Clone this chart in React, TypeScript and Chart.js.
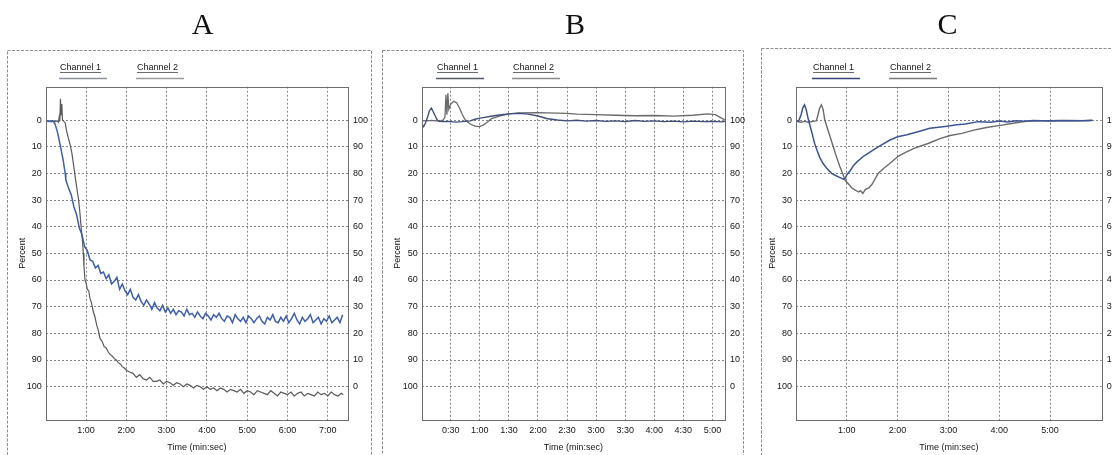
import React, { useEffect, useRef } from "react";
import { Chart, registerables } from "chart.js";

Chart.register(...registerables);

// ---------------- DATA ----------------
const percentTicks = [0, 10, 20, 30, 40, 50, 60, 70, 80, 90, 100];
const aTimeTicks = [60, 120, 180, 240, 300, 360, 420];
const bTimeTicks = [30, 60, 90, 120, 150, 180, 210, 240, 270, 300];
const cTimeTicks = [60, 120, 180, 240, 300];
const panelLetters = ["A", "B", "C"];
const seriesNames = ["Channel 1", "Channel 2"];

// Panel A - Channel 1 (blue)
const aCh1Time = [0, 4, 8, 11, 14, 18, 22, 26, 29,
  30, 34, 38, 42, 46, 50, 54, 58, 62, 66,
  70, 74, 78, 82, 86, 90, 94, 98, 102, 106,
  110, 114, 118, 122, 126, 130, 134, 138, 142, 146,
  150, 154, 158, 162, 166, 170, 174, 178, 182, 186,
  190, 194, 198, 202, 206, 210, 214, 218, 222, 226,
  230, 234, 238, 242, 246, 250, 254, 258, 262, 266,
  270, 274, 278, 282, 286, 290, 294, 298, 302, 306,
  310, 314, 318, 322, 326, 330, 334, 338, 342, 346,
  350, 354, 358, 362, 366, 370, 374, 378, 382, 386,
  390, 394, 398, 402, 406, 410, 414, 418, 422, 426,
  430, 434, 438, 442];
const aCh1 = [0.5, 0.3, 0.6, 0.4, 1.5, 5, 10, 15, 20,
  22.5, 25.5, 28, 32.5, 35.5, 40.5, 43, 47.5, 49, 52.5,
  53, 55.5, 54.5, 57.5, 57, 59.5, 58, 61.5, 60.5, 59,
  63.5, 61.5, 64, 65.5, 63.5, 66.5, 67.5, 65.5, 68, 69.5,
  67.5, 69, 71, 68.5, 70.5, 71.5, 69.5, 72, 70.5, 72.5,
  71, 73, 71.5, 72, 73.5, 71, 73, 72.5, 74, 72,
  73.5, 74.5, 72.5, 73.5, 75, 73, 74, 72.5, 74.5, 75.5,
  73.5, 74, 76, 73, 74.5, 75.5, 74, 76, 73.5, 74.5,
  76, 74.5, 73.5, 75.5, 76.5, 74, 75, 73, 75.5, 76,
  74, 75.5, 73.5, 76, 74.5, 72.5, 75, 76.5, 74, 75.5,
  74.5, 73, 76, 75, 74, 76.5, 74.5, 75.5, 73.5, 76,
  75, 74, 76, 73];

// Panel A - Channel 2 (grey)
const aCh2Time = [0, 5, 10, 14, 17, 19, 20, 21, 22, 23, 24, 25, 27, 29, 31, 33, 35, 37, 39, 41,
  44, 46, 49, 51, 53, 55, 56, 57, 58.5, 60, 62, 64, 66, 68, 71, 73, 76, 78, 81, 84, 87, 90, 93,
  96, 99, 102, 105, 108, 111, 114, 117, 121, 125, 130, 135, 140, 145, 150, 155, 160, 165, 170,
  175, 180, 185, 190, 195, 200, 205, 210, 215, 220, 225, 230, 235, 240, 245, 250, 255, 260, 265,
  270, 275, 280, 285, 290, 295, 300, 305, 310, 315, 320, 325, 330, 335, 340, 345, 350, 355, 360,
  365, 370, 375, 380, 385, 390, 395, 400, 405, 410, 415, 420, 425, 430, 435, 440, 443];
const aCh2 = [0.3, 0.6, 0.2, 0.7, 0.3, 0.8, -1, 0.5, -8, -2, -6, 0, 0.5, 1, 4, 6, 8, 10, 12.5, 16,
  21.5, 25, 30, 35, 41, 46, 50, 55, 60, 61, 63.5, 64, 67, 68.5, 72, 73.5, 77, 78.5, 82, 83, 85, 85.5, 87,
  88, 88.5, 89.5, 90, 91, 91.5, 92.5, 93, 94, 94.5, 95, 96.5, 95.5, 97, 97.5, 96.5, 98, 98, 97.5,
  99, 98, 98.5, 99.5, 98.5, 99, 100, 99, 99.5, 100.5, 99.5, 100, 101, 100, 101, 100.5, 101.5, 100.5, 101,
  102, 101, 101.5, 102, 101, 102.5, 101.5, 102, 103, 101.5, 102, 102.5, 103, 101.5, 102.5, 103.5, 102, 102.5, 103,
  102, 103.5, 102.5, 102, 103.5, 102.5, 103, 103.5, 102, 103, 102.5, 103.5, 102, 103, 103.5, 102.5, 103];

// Panel B - Channel 1
const bCh1Time = [0, 2, 4, 6, 8, 10, 12, 14, 16, 18, 22, 28, 35, 42, 50, 55, 60, 65, 70, 75, 82, 90,
  100, 110, 120, 130, 140, 150, 160, 170, 180, 190, 200, 210, 220, 230, 240, 250, 260, 270, 280,
  290, 300, 310, 313];
const bCh1 = [1.5, 2.5, 1, -1, -3.5, -4.5, -3, -1.5, 0, 0.5, 0.6, 0.5, 0.8, 0.6, 0.3, -0.3, -0.7, -1, -1.3,
  -1.6, -2, -2.3, -2.5, -2.2, -1.5, -0.5, 0, 0.3, 0.1, 0.4, 0.2, 0.5, 0.3, 0.6, 0.2, 0.5, 0.3, 0.6,
  0.4, 0.7, 0.4, 0.6, 0.5, 0.7, 0.5];

// Panel B - Channel 2
const bCh2Time = [0, 5, 10, 15, 20, 22, 24, 25, 26, 27, 28, 30, 33, 36, 39, 42, 45, 50, 55, 59, 63,
  67, 72, 80, 90, 100, 120, 140, 150, 160, 180, 200, 220, 240, 260, 280, 295, 303, 308, 313];
const bCh2 = [0.2, 0.3, 0.1, 0.3, 0.2, 0, -1, -9.5, -2, -10, -4, -6, -7, -6.5, -4.5, -2, 0, 1.5, 2.3,
  2.5, 2, 1, -0.5, -1.5, -2.3, -2.7, -2.8, -2.6, -2.5, -2.2, -2, -1.8, -1.6, -1.7, -1.5, -1.8, -2.3,
  -2, -1, 0];

// Panel C - Channel 1
const cCh1Time = [0, 3, 6, 8, 10, 12, 14, 16, 19, 22, 25, 28, 32, 36, 42, 48, 52, 56, 58, 60, 64, 68,
  72, 80, 91, 100, 111, 120, 131, 145, 158, 176, 190, 200, 215, 230, 240, 250, 260, 270, 280, 300,
  320, 340, 350];
const cCh1 = [0.3, 0.5, -2, -4.5, -5.7, -4, -1, 1.5, 5, 8.8, 11.5, 14, 16.3, 18, 20, 21, 21.6, 22.2,
  22, 20.5, 19, 17, 15.7, 13.5, 11.3, 9.5, 7.5, 6.3, 5.5, 4.3, 3.1, 2.4, 1.8, 1.5, 0.6, 0.8, 0.4,
  0.7, 0.3, 0.5, 0.2, 0.4, 0.2, 0.3, 0.2];

// Panel C - Channel 2
const cCh2Time = [0, 5, 10, 15, 20, 24, 26, 28, 30, 32, 34, 37, 40, 44, 48, 52, 55, 58, 62, 66, 70,
  74, 76, 79, 82, 86, 90, 97, 104, 110, 121, 130, 140, 156, 170, 182, 196, 210, 225, 243, 260, 274,
  290, 310, 330, 350];
const cCh2 = [0.3, 0.8, 0.5, 0.8, 0.5, 0.3, -2, -4.5, -5.7, -4, 0, 3, 6, 10, 14, 17.6, 20, 22.6, 24,
  25.5, 26.3, 27, 26.5, 27.5, 26, 25.5, 24, 20, 18, 16.5, 13.5, 12, 10.5, 8.8, 7, 5.8, 5, 3.8, 2.8,
  1.9, 1, 0.4, 0.3, 0.2, 0.3, 0.1];

// ---------------- HELPERS ----------------
const FONT = '"Liberation Sans", Arial, sans-serif';
const TEXT = "#151515";

function fmtTime(s: number) {
  const m = Math.floor(s / 60);
  const ss = Math.round(s % 60);
  return `${m}:${ss < 10 ? "0" : ""}${ss}`;
}

function pairs(t: number[], v: number[]) {
  return t.map((x, i) => ({ x, y: v[i] }));
}

type Series = { label: string; t: number[]; v: number[]; color: string; width: number; legendColor: string };

type PanelSpec = {
  letter: string;
  canvasLeft: number;
  canvasWidth: number;
  letterX: number;
  boxLeft: number;
  boxTop: number;
  boxRight: number;
  leftW: number;
  rightW: number;
  top: number;
  xMax: number;
  xTicks: number[];
  percentPad: number;
  legendGap: number;
  legendOffset: number;
  series: Series[];
};

const H = 455;

const panels: PanelSpec[] = [
  {
    letter: panelLetters[0], canvasLeft: 0, canvasWidth: 376, letterX: 202.5,
    boxLeft: 7.5, boxTop: 50.5, boxRight: 371.5,
    leftW: 45.7, rightW: 28, top: 86.7, xMax: 450, xTicks: aTimeTicks, percentPad: 17, legendGap: 77, legendOffset: 14,
    series: [
      { label: seriesNames[0], t: aCh1Time, v: aCh1, color: "#3d5fae", width: 1.5, legendColor: "#8a8f9c" },
      { label: seriesNames[1], t: aCh2Time, v: aCh2, color: "#5a5a5a", width: 1.2, legendColor: "#9a9a9a" },
    ],
  },
  {
    letter: panelLetters[1], canvasLeft: 376, canvasWidth: 376, letterX: 199,
    boxLeft: 6.5, boxTop: 50.5, boxRight: 367.5,
    leftW: 45.7, rightW: 27, top: 86.7, xMax: 313, xTicks: bTimeTicks, percentPad: 16, legendGap: 76, legendOffset: 15,
    series: [
      { label: seriesNames[0], t: bCh1Time, v: bCh1, color: "#3f4f7a", width: 1.4, legendColor: "#555a66" },
      { label: seriesNames[1], t: bCh2Time, v: bCh2, color: "#6a6a6a", width: 1.3, legendColor: "#8a8a8a" },
    ],
  },
  {
    letter: panelLetters[2], canvasLeft: 752, canvasWidth: 360, letterX: 195.5,
    boxLeft: 9.5, boxTop: 48.5, boxRight: 420,
    leftW: 44, rightW: 10.3, top: 86.7, xMax: 361, xTicks: cTimeTicks, percentPad: 15, legendGap: 77, legendOffset: 17,
    series: [
      { label: seriesNames[0], t: cCh1Time, v: cCh1, color: "#3b5594", width: 1.5, legendColor: "#34467a" },
      { label: seriesNames[1], t: cCh2Time, v: cCh2, color: "#6b6b6b", width: 1.4, legendColor: "#7a7a7a" },
    ],
  },
];

function makeDecor(spec: PanelSpec) {
  return {
    id: "decor" + spec.letter,
    beforeDraw(chart: any) {
      const ctx = chart.ctx;
      ctx.save();
      ctx.fillStyle = "#ffffff";
      ctx.fillRect(0, 0, chart.width, chart.height);
      ctx.strokeStyle = "#8e8e8e";
      ctx.lineWidth = 1;
      ctx.setLineDash([3, 1.5]);
      ctx.strokeRect(spec.boxLeft, spec.boxTop, spec.boxRight - spec.boxLeft, H + 20);
      ctx.setLineDash([]);
      ctx.fillStyle = "#111";
      ctx.font = '30px "Liberation Serif", "Times New Roman", serif';
      ctx.textAlign = "center";
      ctx.textBaseline = "alphabetic";
      ctx.fillText(spec.letter, spec.letterX, 33.5);
      ctx.restore();
    },
    afterDraw(chart: any) {
      const ctx = chart.ctx;
      const a = chart.chartArea;
      ctx.save();
      ctx.strokeStyle = "#6e6e6e";
      ctx.lineWidth = 1;
      ctx.strokeRect(Math.round(a.left) + 0.5, Math.round(a.top) + 0.5, Math.round(a.right - a.left), Math.round(a.bottom - a.top));
      ctx.font = `9px ${FONT}`;
      ctx.textAlign = "left";
      ctx.textBaseline = "middle";
      spec.series.forEach((s, i) => {
        const x = Math.round(a.left + spec.legendOffset + i * spec.legendGap);
        ctx.fillStyle = TEXT;
        ctx.fillText(s.label, x, 67.5);
        const w = ctx.measureText(s.label).width;
        ctx.strokeStyle = "#444";
        ctx.lineWidth = 0.8;
        ctx.beginPath();
        ctx.moveTo(x, 72.5);
        ctx.lineTo(x + w, 72.5);
        ctx.stroke();
        ctx.strokeStyle = s.legendColor;
        ctx.lineWidth = 1.5;
        ctx.beginPath();
        ctx.moveTo(x - 1, 78.5);
        ctx.lineTo(x + 47, 78.5);
        ctx.stroke();
      });
      ctx.restore();
    },
  };
}

function Panel({ spec }: { spec: PanelSpec }) {
  const ref = useRef<HTMLCanvasElement | null>(null);
  useEffect(() => {
    if (!ref.current) return;
    const tickFont = { family: FONT, size: 9 };
    const chart = new Chart(ref.current, {
      type: "line",
      data: {
        datasets: spec.series.map((s) => ({
          label: s.label,
          data: pairs(s.t, s.v),
          borderColor: s.color,
          backgroundColor: s.color,
          borderWidth: s.width,
          pointRadius: 0,
          tension: 0,
          fill: false,
          xAxisID: "x",
          yAxisID: "y",
        })),
      },
      options: {
        animation: false,
        responsive: false,
        devicePixelRatio: 1,
        layout: { padding: { top: spec.top, left: 0, right: 0, bottom: 0 } },
        plugins: { legend: { display: false }, title: { display: false }, tooltip: { enabled: false } },
        scales: {
          x: {
            type: "linear",
            position: "bottom",
            min: 0,
            max: spec.xMax,
            afterBuildTicks: (s: any) => { s.ticks = spec.xTicks.map((v) => ({ value: v })); },
            afterFit: (s: any) => { s.height = H - 420; },
            ticks: { callback: (v: any) => fmtTime(Number(v)), font: tickFont, color: TEXT, padding: 5, autoSkip: false, maxRotation: 0 },
            grid: { color: "#858585", lineWidth: 1, drawTicks: false },
            border: { display: false, dash: [2, 2] },
            title: { display: true, text: "Time (min:sec)", font: tickFont, color: TEXT, padding: { top: 0, bottom: 2 } },
          },
          y: {
            type: "linear",
            position: "left",
            reverse: true,
            min: -12.5,
            max: 112.5,
            afterBuildTicks: (s: any) => { s.ticks = percentTicks.map((v) => ({ value: v })); },
            afterFit: (s: any) => { s.width = spec.leftW; },
            ticks: { callback: (v: any) => String(v), font: tickFont, color: TEXT, padding: 4 },
            grid: { color: "#858585", lineWidth: 1, drawTicks: false },
            border: { display: false, dash: [2, 2] },
            title: { display: true, text: "Percent", font: tickFont, color: TEXT, padding: { top: spec.percentPad, bottom: 0 } },
          },
          y2: {
            type: "linear",
            position: "right",
            reverse: true,
            min: -12.5,
            max: 112.5,
            afterBuildTicks: (s: any) => { s.ticks = percentTicks.map((v) => ({ value: v })); },
            afterFit: (s: any) => { s.width = spec.rightW; },
            ticks: { callback: (v: any) => String(100 - Number(v)), font: tickFont, color: TEXT, padding: 5 },
            grid: { display: false, drawTicks: false },
            border: { display: false },
          },
        },
      } as any,
      plugins: [makeDecor(spec)],
    });
    return () => chart.destroy();
  }, [spec]);
  return (
    <canvas
      ref={ref}
      width={spec.canvasWidth}
      height={H}
      style={{ position: "absolute", left: spec.canvasLeft, top: 0, width: spec.canvasWidth, height: H }}
    />
  );
}

export default function App() {
  return (
    <div style={{ position: "fixed", left: 0, top: 0, width: 1112, height: H, background: "#fff", overflow: "hidden" }}>
      {panels.map((p) => (
        <Panel key={p.letter} spec={p} />
      ))}
    </div>
  );
}
